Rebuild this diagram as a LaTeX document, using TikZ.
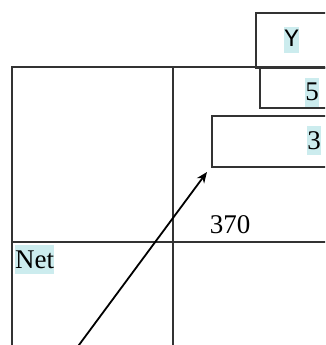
\documentclass[tikz,border=0pt]{standalone}
\usepackage{fontspec}
\setmainfont{Liberation Serif}
\newfontfamily\monofont{Liberation Mono}
\usetikzlibrary{arrows.meta}
\definecolor{hl}{RGB}{204,236,238}
\tikzset{
  box/.style={draw=black!80, line width=1.6pt},
  grid/.style={draw=black!80, line width=1.3pt},
  lbl/.style={fill=hl, inner sep=0pt, text height=23pt, text depth=6pt, font=\fontsize{27}{27}\selectfont},
  plain/.style={inner sep=0pt, font=\fontsize{27}{27}\selectfont},
  arr/.style={line width=1.8pt, -{Stealth[length=11pt,width=9pt]}}
}
\begin{document}
\begin{tikzpicture}[x=1pt,y=-1pt]
\useasboundingbox (0,0) rectangle (325,345);
\clip (0,0) rectangle (325,345);
% big frame and grid
\draw[grid] (12,350) -- (12,67) -- (330,67);
\draw[grid] (173,67) -- (173,350);
\draw[grid] (12,242) -- (330,242);
% boxes
\node[box, minimum width=80pt, minimum height=55pt, anchor=north west] (ybox) at (255,12) {};
\node[box, minimum width=75pt, minimum height=40pt, anchor=north west] (fbox) at (259,67) {};
\node[box, minimum width=125pt, minimum height=51pt, anchor=north west] (tbox) at (211,115) {};
% labels
\node[lbl, text height=20pt, text depth=6pt, font=\fontsize{25}{25}\monofont] (y) at (291.5,40) {Y};
\node[lbl] (five) at (312,92) {5};
\node[lbl] (three) at (314,140.5) {3};
\node[plain] (n370) at (230,225) {370};
\node[lbl, anchor=north west] (net) at (15,245) {Net};
% arrow
\coordinate (start) at (76,349);
\coordinate (tip) at (207,172);
\draw[arr] (start) -- (tip);
\end{tikzpicture}
\end{document}
